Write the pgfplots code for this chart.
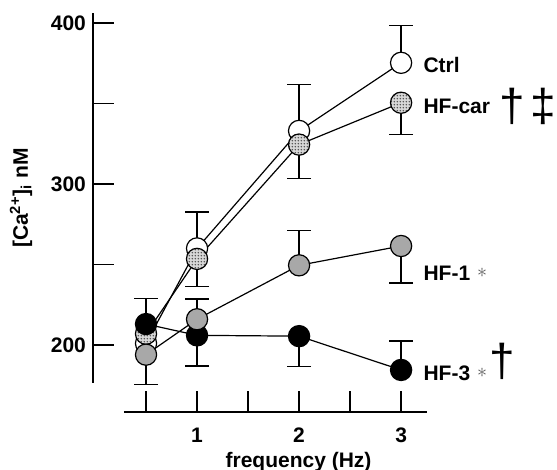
\documentclass[border=0pt]{standalone}
\usepackage{fontspec}
\setmainfont{Liberation Sans}
\newfontfamily\dagfont{Liberation Sans}
\usepackage{pgfplots}
\pgfplotsset{compat=1.18}
\usetikzlibrary{patterns}
\definecolor{hfgray}{RGB}{168,168,168}
\definecolor{cardot}{RGB}{215,215,215}

% fine dot texture for the HF-car markers
\pgfdeclarepatternformonly{finedots}{\pgfpointorigin}{\pgfqpoint{1.6pt}{1.6pt}}{\pgfqpoint{1.6pt}{1.6pt}}{%
  \pgfpathcircle{\pgfqpoint{0.8pt}{0.8pt}}{0.48pt}\pgfusepath{fill}}
\pgfdeclareplotmark{dotball}{%
  \pgfpathcircle{\pgfpointorigin}{\pgfplotmarksize}%
  \pgfsetfillcolor{cardot}\pgfusepathqfill
  \pgfpathcircle{\pgfpointorigin}{\pgfplotmarksize}%
  \pgfsetfillpattern{finedots}{gray!60!black}\pgfusepathqfillstroke}

\pgfplotsset{
  errup/.style={only marks, mark=none, forget plot, black,
    error bars/.cd, y dir=plus, y explicit,
    error bar style={line width=0.65pt, black},
    error mark options={rotate=90, black, mark size=6pt, line width=0.65pt}},
  errdown/.style={only marks, mark=none, forget plot, black,
    error bars/.cd, y dir=minus, y explicit,
    error bar style={line width=0.65pt, black},
    error mark options={rotate=90, black, mark size=6pt, line width=0.65pt}},
}

\begin{document}
\begin{tikzpicture}
\path[use as bounding box] (0,0) rectangle (278.5pt,235pt);
\begin{axis}[
  at={(62pt,43.5pt)}, anchor=south west,
  scale only axis, width=151.3pt, height=184.8pt,
  xmin=0.284, xmax=3.25, ymin=176.4, ymax=406,
  axis x line*=bottom, axis y line*=left,
  axis x line shift=14.5pt, axis y line shift=15.5pt,
  axis line style={line width=0.65pt, -},
  tick align=inside, major tick length=10.3pt,
  tick style={line width=0.65pt, black},
  xtick={0.5,1,1.5,2,2.5,3}, xticklabels={,1,,2,,3},
  ytick={200,250,300,350,400}, yticklabels={200,,300,,400},
  ticklabel style={font=\fontsize{10.5}{12}\selectfont\bfseries},
  xticklabel style={yshift=-4.5pt},
  clip=false,
  every axis plot/.append style={line width=0.6pt},
]
% error bars first, so the markers sit on top
\addplot[errup] table[x=x, y=y, y error=e] {
x y e
1 260 22.6
2 333 29
3 375.3 23
};
\addplot[errdown] table[x=x, y=y, y error=e] {
x y e
1 253.5 17
2 324.5 21
3 350.5 19.7
};
\addplot[errup] table[x=x, y=y, y error=e] {
x y e
1 216 12.6
2 249.5 21.5
0.5 213 16
3 184.5 18
};
\addplot[errdown] table[x=x, y=y, y error=e] {
x y e
0.5 194 18.6
3 261.5 23
1 206 19
2 205.5 19
};

% Ctrl
\addplot[black, mark=*, mark size=5.3pt, mark options={fill=white, line width=0.6pt}]
coordinates {(0.5,201) (1,260) (2,333) (3,375.3)};
% HF-car
\addplot[black, mark=dotball, mark size=5.3pt, mark options={line width=0.6pt}]
coordinates {(0.5,207) (1,253.5) (2,324.5) (3,350.5)};
% HF-3
\addplot[black, mark=*, mark size=5.3pt, mark options={fill=black, line width=0.6pt}]
coordinates {(0.5,213) (1,206) (2,205.5) (3,184.5)};
% HF-1
\addplot[black, mark=*, mark size=5.3pt, mark options={fill=hfgray, line width=0.6pt}]
coordinates {(0.5,194) (1,216) (2,249.5) (3,261.5)};

\begin{scope}[font=\fontsize{10.5}{12}\selectfont\bfseries]
\node[anchor=west, inner sep=0pt] (ctrl) at (axis cs:3.216,373.9) {Ctrl};
\node[anchor=west, inner sep=0pt] (car) at (axis cs:3.216,348.4) {HF-car};
\node[anchor=west, inner sep=0pt] (hf1) at (axis cs:3.216,244.7) {HF-1};
\node[anchor=west, inner sep=0pt] (hf3) at (axis cs:3.216,182.6) {HF-3};
\node[rotate=90] at (axis cs:-0.725,291.3) {[Ca\textsuperscript{2+}]\textsubscript{i} nM};
\node at (axis cs:1.995,127.3) {frequency (Hz)};
\end{scope}
\node[text=gray!70!black, font=\fontsize{10}{10}\selectfont, inner sep=0pt] at ([xshift=29.5pt]hf1.west) {$\ast$};
\node[text=gray!70!black, font=\fontsize{10}{10}\selectfont, inner sep=0pt] at ([xshift=29.5pt]hf3.west) {$\ast$};
\node[font=\dagfont\fontsize{23}{23}\selectfont, inner sep=0pt] at ([xshift=44.5pt]car.west) {†};
\node[font=\dagfont\fontsize{23}{23}\selectfont, inner sep=0pt] at ([xshift=60pt]car.west) {‡};
\node[font=\dagfont\fontsize{23}{23}\selectfont, inner sep=0pt] at ([xshift=39.5pt, yshift=5.75pt]hf3.west) {†};
\end{axis}
\end{tikzpicture}
\end{document}
